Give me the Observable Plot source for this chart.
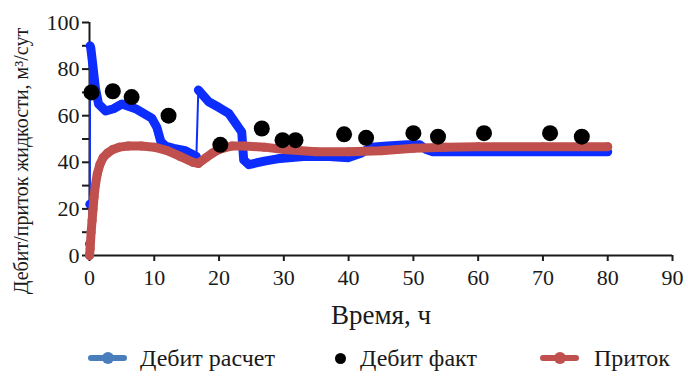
<!DOCTYPE html>
<html><head><meta charset="utf-8">
<script src="https://cdn.jsdelivr.net/npm/d3@7"></script>
<script src="https://cdn.jsdelivr.net/npm/@observablehq/plot@0.6"></script>
<style>
body{margin:0;background:#fff;font-family:"Liberation Serif","Times New Roman",serif;}
svg, svg text{font-family:"Liberation Serif","Times New Roman",serif !important;}
#legend{position:relative;width:688px;height:34px;font-size:24px;color:#1a1a1a;}
#legend .item{position:absolute;top:0;height:34px;display:flex;align-items:center;}
.sym{position:relative;width:39px;height:16px;}
.sym .ln{position:absolute;left:0;right:0;top:5px;height:6px;border-radius:3px;}
.sym .mk{position:absolute;left:14px;top:2px;width:12px;height:12px;border-radius:6px;}
.dot{width:11px;height:11px;border-radius:6px;background:#000;}
</style></head>
<body><div id="chart"></div><div id="legend"></div>
<script>
// Дебит расчет (calculated rate)
const calcT = [0, 0.05, 0.1, 0.2, 0.5, 0.9, 1.4, 2.5, 3.7, 5, 7.1, 9.6, 10.4, 11, 11.7, 13, 14.8, 16.5, 16.8, 18.4, 20, 21.5, 23.5, 23.8, 24.6, 27, 29, 33, 37, 40, 42, 43.5, 46, 49, 51, 52, 53, 60, 70, 80];
const calcV = [5, 22, 90, 89, 82, 72, 65, 62, 63, 65, 63, 59, 55, 49, 47, 46, 45, 42.5, 71, 66, 63.5, 61, 53, 41, 39, 40.5, 41.5, 42.5, 42.5, 42, 44, 46.5, 47, 47.5, 47.5, 45.5, 44.5, 44.5, 44.5, 44.5];
// Приток (inflow)
const inflowT = [0, 0.1, 0.25, 0.4, 0.55, 0.7, 0.9, 1.2, 1.6, 2.1, 2.8, 3.6, 4.6, 6, 8, 10, 12, 14, 16, 16.8, 18, 19, 20, 22, 24, 27, 30, 35, 40, 45, 50, 55, 60, 70, 80];
const inflowV = [0, 3, 10, 15, 20, 25, 30, 35, 39, 42, 44, 45.5, 46.5, 47, 47, 46.5, 45, 42.5, 40, 39.5, 42, 44, 45.5, 47, 47, 46.5, 45.5, 44.5, 44.5, 45, 46, 46.5, 46.7, 46.7, 46.7];
// Дебит факт (measured rate)
const factT = [0.3, 3.6, 6.5, 12.2, 20.2, 26.6, 29.8, 31.8, 39.3, 42.7, 50, 53.8, 60.9, 71.1, 76];
const factV = [70, 70.5, 68, 60, 47.5, 54.5, 49.5, 49.5, 52, 50.5, 52.5, 51, 52.5, 52.5, 51];

const xTicks = [0, 10, 20, 30, 40, 50, 60, 70, 80, 90];
const yTicks = [0, 10, 20, 30, 40, 50, 60, 70, 80, 90, 100];
const yLabelTicks = [0, 20, 40, 60, 80, 100];
const seriesNames = ["Дебит расчет", "Дебит факт", "Приток"];
const xTitle = "Время, ч";
const yTitle = "Дебит/приток жидкости, м³/сут";

const blue = "#0d2dff", red = "#c0504d";
const serif = '"Liberation Serif","Times New Roman",serif';

let seg = 0;
const calc = calcT.map((t, i) => {
  if (i > 0 && Math.abs(calcV[i] - calcV[i - 1]) > 15) seg++;
  return {t, v: calcV[i], seg};
});
const inflow = inflowT.map((t, i) => ({t, v: inflowV[i]}));
const fact = factT.map((t, i) => ({t, v: factV[i]}));

const chart = Plot.plot({
  width: 688,
  height: 341,
  marginLeft: 89,
  marginRight: 16,
  marginTop: 22,
  marginBottom: 86,
  style: {fontFamily: serif, background: "#fff"},
  x: {domain: [0, 90], label: null},
  y: {domain: [0, 100], label: null},
  marks: [
    Plot.axisX(xTicks, {tickSize: 6, tickPadding: 8, fontSize: 22, fontFamily: serif, color: "#1a1a1a", strokeWidth: 2, label: null}),
    Plot.axisY(yTicks, {tickSize: 7, tickPadding: 3, fontSize: 22, fontFamily: serif, color: "#1a1a1a", strokeWidth: 2, label: null,
      tickFormat: d => yLabelTicks.includes(d) ? String(d) : ""}),
    Plot.ruleX([0], {y1: 0, y2: 100, stroke: "#1a1a1a", strokeWidth: 2}),
    Plot.ruleY([0], {x1: 0, x2: 90, stroke: "#1a1a1a", strokeWidth: 2}),
    Plot.line(calc, {x: "t", y: "v", stroke: blue, strokeWidth: 2}),
    Plot.line(calc, {x: "t", y: "v", z: "seg", stroke: blue, strokeWidth: 9, strokeLinecap: "round", strokeLinejoin: "round"}),
    Plot.line(inflow, {x: "t", y: "v", stroke: red, strokeWidth: 9, strokeLinecap: "round", strokeLinejoin: "round"}),
    Plot.dot(inflow, {x: "t", y: "v", r: 4.5, fill: red}),
    Plot.dot(fact, {x: "t", y: "v", r: 8, fill: "#000"}),
    Plot.text([xTitle], {frameAnchor: "bottom", dy: 68, fontSize: 27, fontFamily: serif, fill: "#1a1a1a"}),
    Plot.text([yTitle], {frameAnchor: "left", textAnchor: "middle", dx: -68, dy: 22, rotate: -90, fontSize: 20, fontFamily: serif, fill: "#1a1a1a"})
  ]
});
document.getElementById("chart").appendChild(chart);

const legend = document.getElementById("legend");
const items = [
  {left: 88, html: `<div class="sym"><div class="ln" style="background:#4a7ebb"></div><div class="mk" style="background:#4a7ebb"></div></div><span style="margin-left:13px">${seriesNames[0]}</span>`},
  {left: 335, html: `<div class="dot"></div><span style="margin-left:14px">${seriesNames[1]}</span>`},
  {left: 540, html: `<div class="sym"><div class="ln" style="background:${red}"></div><div class="mk" style="background:${red}"></div></div><span style="margin-left:15px">${seriesNames[2]}</span>`}
];
for (const it of items) {
  const d = document.createElement("div");
  d.className = "item";
  d.style.left = it.left + "px";
  d.innerHTML = it.html;
  legend.appendChild(d);
}
</script>
</body></html>
